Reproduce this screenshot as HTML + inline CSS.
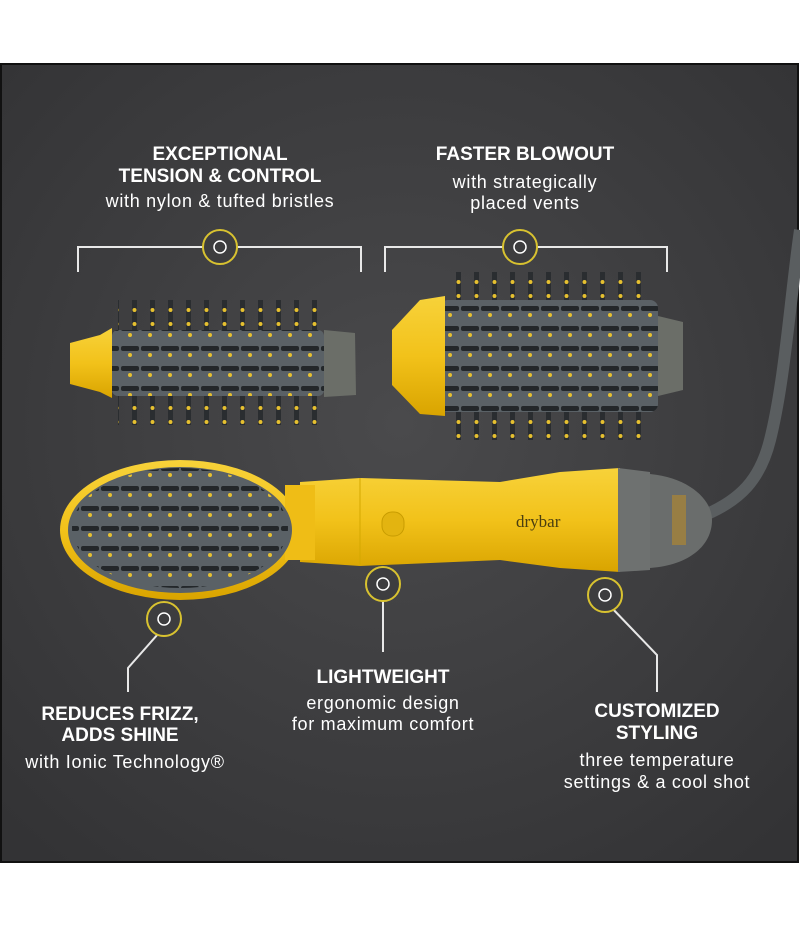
<!DOCTYPE html>
<html><head><style>
html,body{margin:0;padding:0;background:#fff;}
body{width:800px;height:927px;overflow:hidden;position:relative;font-family:"Liberation Sans",sans-serif;}
svg{position:absolute;left:0;top:0;}
.t{position:absolute;color:#fff;text-align:center;white-space:nowrap;transform:translateX(-50%);line-height:22px;}
.b{font-weight:bold;font-size:19px;}
.r{font-size:18px;letter-spacing:0.7px;}
</style></head><body>
<svg width="800" height="927" viewBox="0 0 800 927">
<defs>
<radialGradient id="bg" cx="50%" cy="45%" r="70%">
<stop offset="0" stop-color="#4a4a4c"/><stop offset="1" stop-color="#333335"/>
</radialGradient>
<linearGradient id="yel" x1="0" y1="0" x2="0" y2="1">
<stop offset="0" stop-color="#f7d23a"/><stop offset="0.5" stop-color="#f2c21a"/><stop offset="1" stop-color="#d9a400"/>
</linearGradient>
<pattern id="br" width="18" height="14" patternUnits="userSpaceOnUse">
<rect x="6" y="0" width="5" height="14" fill="#2a2d30"/><circle cx="8.5" cy="2" r="2" fill="#e6c030"/>
</pattern>
<pattern id="sl" width="20" height="20" patternUnits="userSpaceOnUse">
<rect width="20" height="20" fill="#5a6166"/><rect x="1" y="6" width="18" height="5" rx="2" fill="#23272a"/><circle cx="10" cy="15" r="2" fill="#e6c030"/>
</pattern>
<clipPath id="oc"><ellipse cx="180" cy="528" rx="108" ry="60"/></clipPath>
</defs>
<rect x="1" y="64" width="797" height="798" fill="url(#bg)" stroke="#111" stroke-width="2"/>
<g stroke="#e8e8e8" stroke-width="2" fill="none">
<polyline points="78,272 78,247 361,247 361,272"/>
<polyline points="385,272 385,247 667,247 667,272"/>
<polyline points="158,634 128,668 128,692"/>
<line x1="383" y1="600" x2="383" y2="652"/>
<polyline points="609,605 657,655 657,692"/>
</g>
<!-- brush 1 -->
<rect x="118" y="300" width="200" height="125" fill="url(#br)"/>
<rect x="112" y="330" width="212" height="66" rx="6" fill="url(#sl)"/>
<path d="M324,330 L355,333 L356,395 L324,397Z" fill="#6b6e68"/>
<path d="M70,343 L100,335 L112,328 L112,398 L100,392 L70,384Z" fill="url(#yel)"/>
<!-- brush 2 -->
<rect x="445" y="272" width="205" height="168" fill="url(#br)"/>
<rect x="440" y="300" width="218" height="112" rx="8" fill="url(#sl)"/>
<path d="M658,316 L683,322 L683,390 L658,396Z" fill="#6b6e68"/>
<path d="M392,330 L420,300 L445,296 L445,416 L420,414 L392,385Z" fill="url(#yel)"/>
<!-- cord -->
<path d="M705,515 C740,500 760,480 770,440 C785,380 790,300 800,230" fill="none" stroke="#5a5e60" stroke-width="12"/>
<!-- dryer -->
<path d="M300,482 L360,478 L500,482 L560,472 L620,468 L620,572 L560,568 L500,560 L360,566 L300,562Z" fill="url(#yel)"/>
<line x1="360" y1="478" x2="360" y2="566" stroke="#d4a800" stroke-width="1"/>
<rect x="382" y="512" width="22" height="24" rx="10" fill="#e3b410" stroke="#c89c00"/>
<path d="M618,468 L650,472 L650,570 L618,572Z" fill="#6e7170"/>
<path d="M650,474 C690,478 712,500 712,520 C712,545 690,565 650,568Z" fill="#6a6d6c"/>
<rect x="672" y="495" width="14" height="50" fill="#b88a2a" opacity="0.6"/>
<ellipse cx="180" cy="530" rx="120" ry="70" fill="url(#yel)"/>
<rect x="285" y="485" width="30" height="75" fill="#efbd16"/>
<ellipse cx="180" cy="530" rx="112" ry="63" fill="#5a6166"/>
<rect x="70" y="465" width="220" height="130" fill="url(#sl)" clip-path="url(#oc)"/>
<text x="516" y="527" font-family="Liberation Serif,serif" font-size="17" fill="#4a3e10">drybar</text>
<g fill="#3d3d3f" stroke="#d8c230" stroke-width="2">
<circle cx="220" cy="247" r="17"/><circle cx="520" cy="247" r="17"/>
<circle cx="164" cy="619" r="17"/><circle cx="383" cy="584" r="17"/><circle cx="605" cy="595" r="17"/>
</g>
<g fill="none" stroke="#fff" stroke-width="1.5">
<circle cx="220" cy="247" r="6"/><circle cx="520" cy="247" r="6"/>
<circle cx="164" cy="619" r="6"/><circle cx="383" cy="584" r="6"/><circle cx="605" cy="595" r="6"/>
</g>
</svg>
<div class="t b" style="left:220px;top:144px;">EXCEPTIONAL</div>
<div class="t b" style="left:220px;top:166px;">TENSION &amp; CONTROL</div>
<div class="t r" style="left:220px;top:190px;">with nylon &amp; tufted bristles</div>
<div class="t b" style="left:525px;top:144px;">FASTER BLOWOUT</div>
<div class="t r" style="left:525px;top:171px;">with strategically</div>
<div class="t r" style="left:525px;top:192px;">placed vents</div>
<div class="t b" style="left:120px;top:704px;">REDUCES FRIZZ,</div>
<div class="t b" style="left:120px;top:725px;">ADDS SHINE</div>
<div class="t r" style="left:125px;top:751px;">with Ionic Technology®</div>
<div class="t b" style="left:383px;top:667px;">LIGHTWEIGHT</div>
<div class="t r" style="left:383px;top:692px;">ergonomic design</div>
<div class="t r" style="left:383px;top:713px;">for maximum comfort</div>
<div class="t b" style="left:657px;top:701px;">CUSTOMIZED</div>
<div class="t b" style="left:657px;top:723px;">STYLING</div>
<div class="t r" style="left:657px;top:749px;">three temperature</div>
<div class="t r" style="left:657px;top:771px;">settings &amp; a cool shot</div>
</body></html>
